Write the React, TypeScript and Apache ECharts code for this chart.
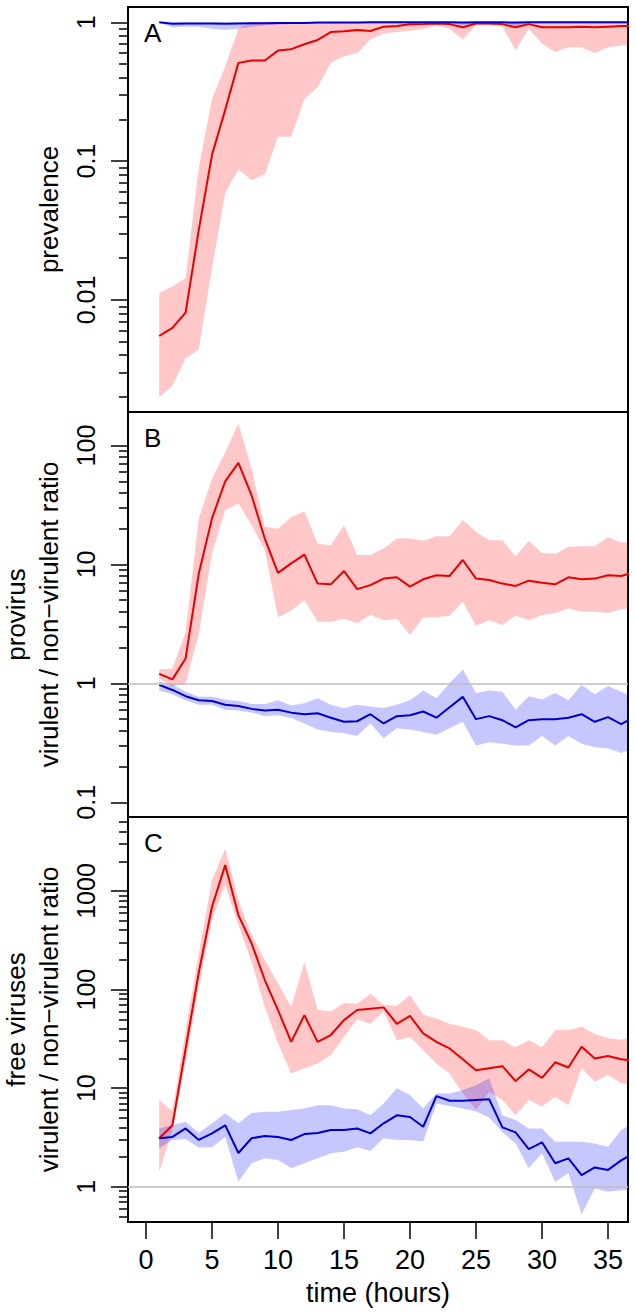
import React, { useEffect, useRef } from "react";
import * as echarts from "echarts";

// ---------- data ----------
const hours = [1, 2, 3, 4, 5, 6, 7, 8, 9, 10, 11, 12, 13, 14, 15, 16, 17, 18, 19, 20, 21, 22, 23, 24, 25, 26, 27, 28, 29, 30, 31, 32, 33, 34, 35, 36, 37];

// Panel A: prevalence
const prevRed = [0.0055, 0.0063, 0.0081, 0.032, 0.111, 0.234, 0.51, 0.53, 0.53, 0.625, 0.64, 0.695, 0.746, 0.85, 0.86, 0.88, 0.866, 0.93, 0.94, 0.967, 0.97, 0.98, 0.97, 0.92, 0.98, 0.98, 0.97, 0.92, 0.97, 0.92, 0.92, 0.92, 0.93, 0.92, 0.93, 0.94, 0.94];
const prevRedLo = [0.002, 0.0024, 0.0038, 0.0044, 0.017, 0.059, 0.087, 0.073, 0.08, 0.15, 0.15, 0.28, 0.34, 0.51, 0.57, 0.6, 0.75, 0.83, 0.85, 0.87, 0.9, 0.95, 0.9, 0.75, 0.95, 0.95, 0.93, 0.63, 0.9, 0.7, 0.61, 0.66, 0.66, 0.6, 0.66, 0.68, 0.69];
const prevRedHi = [0.0112, 0.0125, 0.0144, 0.09, 0.28, 0.48, 0.9, 1, 1, 1, 1, 1, 1, 1, 1, 1, 1, 1, 1, 1, 1, 1, 1, 1, 1, 1, 1, 1, 1, 1, 1, 1, 1, 1, 1, 1, 1];
const prevBlue = [1.0, 0.975, 0.98, 0.98, 0.98, 0.975, 0.98, 0.985, 0.985, 0.99, 0.99, 0.99, 0.995, 0.995, 0.995, 0.995, 1, 1, 1, 1, 1, 1, 1, 0.995, 1, 1, 1, 0.995, 1, 1, 1, 1, 1, 1, 1, 1, 1];
const prevBlueLo = [0.99, 0.92, 0.93, 0.93, 0.9, 0.88, 0.9, 0.93, 0.95, 0.96, 0.97, 0.97, 0.98, 0.98, 0.985, 0.985, 0.985, 0.985, 0.985, 0.985, 0.985, 0.985, 0.985, 0.95, 0.985, 0.985, 0.985, 0.94, 0.985, 0.985, 0.985, 0.985, 0.985, 0.985, 0.985, 0.985, 0.985];
const prevBlueHi = [1, 1, 1, 1, 1, 1, 1, 1, 1, 1, 1, 1, 1, 1, 1, 1, 1, 1, 1, 1, 1, 1, 1, 1, 1, 1, 1, 1, 1, 1, 1, 1, 1, 1, 1, 1, 1];

// Panel B: provirus ratio
const provRed = [1.2, 1.08, 1.62, 8.4, 24.4, 50, 71.4, 38, 16.5, 8.5, 10.2, 12.1, 6.9, 6.8, 8.8, 6.2, 6.7, 7.6, 7.8, 6.5, 7.5, 8.1, 8.0, 10.9, 7.6, 7.4, 6.9, 6.6, 7.3, 7.0, 6.8, 7.8, 7.5, 7.6, 8.1, 8.0, 8.6];
const provRedLo = [1.1, 0.94, 1.0, 2.6, 12.4, 28.6, 32.5, 21.4, 13.2, 3.6, 4.1, 5.0, 3.3, 3.3, 3.5, 3.2, 3.75, 3.4, 3.5, 2.55, 3.6, 3.6, 3.7, 4.85, 3.05, 3.4, 3.1, 3.7, 3.4, 3.75, 3.9, 4.27, 4.0, 4.0, 3.9, 4.2, 4.3];
const provRedHi = [1.31, 1.33, 2.7, 24.4, 52.6, 88, 153, 64, 20.7, 20, 25, 28, 15, 14.5, 21.4, 12, 12, 13.6, 16.5, 16.5, 15.8, 17.3, 17.3, 23.6, 18.8, 16, 16, 11.7, 15.8, 12.5, 12.3, 14, 14.2, 14.2, 16.9, 15.3, 15.5];
const provBlue = [0.97, 0.88, 0.78, 0.72, 0.71, 0.66, 0.645, 0.61, 0.59, 0.6, 0.567, 0.55, 0.56, 0.514, 0.475, 0.48, 0.55, 0.46, 0.53, 0.54, 0.58, 0.514, 0.63, 0.77, 0.5, 0.53, 0.49, 0.427, 0.49, 0.5, 0.5, 0.514, 0.55, 0.475, 0.52, 0.455, 0.52];
const provBlueLo = [0.87, 0.81, 0.72, 0.66, 0.66, 0.6, 0.59, 0.57, 0.53, 0.54, 0.51, 0.46, 0.41, 0.39, 0.38, 0.36, 0.46, 0.345, 0.42, 0.41, 0.39, 0.37, 0.42, 0.476, 0.3, 0.32, 0.31, 0.3, 0.3, 0.36, 0.3, 0.36, 0.31, 0.29, 0.285, 0.26, 0.285];
const provBlueHi = [1.03, 0.98, 0.85, 0.77, 0.77, 0.73, 0.71, 0.67, 0.67, 0.72, 0.65, 0.68, 0.75, 0.66, 0.62, 0.66, 0.64, 0.62, 0.66, 0.72, 0.87, 0.75, 1.0, 1.31, 0.83, 0.87, 0.85, 0.6, 0.78, 0.73, 0.83, 0.72, 0.97, 0.81, 0.95, 0.85, 0.76];

// Panel C: free viruses ratio
const freeRed = [3.1, 4.2, 25, 150, 692, 1833, 570, 294, 125, 62, 29.5, 55, 29.5, 34.6, 49, 62, 64, 66, 45, 54, 36, 29.5, 25.3, 19.6, 15.2, 15.9, 16.7, 11.8, 15.5, 12.7, 18.3, 16.2, 26.3, 20, 21.2, 19.6, 19];
const freeRedLo = [1.42, 3.76, 17.8, 107, 507, 1148, 451, 191, 67, 28.5, 14.1, 15.9, 17.8, 21.7, 33, 50, 45, 60, 30.7, 33, 24.3, 17.8, 14.1, 8.9, 6.0, 9.2, 7.6, 5.3, 7.6, 6.5, 8.2, 6.7, 15.9, 11.6, 13.6, 11.2, 11.0];
const freeRedHi = [7.6, 5.8, 38.8, 233, 1290, 2700, 809, 357, 200, 116, 67, 191, 62, 60, 73, 72, 90, 70, 68, 88, 56, 51, 45, 42, 38.8, 30.7, 30.7, 26, 30.7, 26, 38.8, 38.8, 42, 35.4, 32, 31, 33];
const freeBlue = [3.1, 3.2, 3.9, 2.98, 3.48, 4.2, 2.2, 3.1, 3.27, 3.2, 2.98, 3.42, 3.5, 3.76, 3.76, 3.9, 3.48, 4.4, 5.3, 5.1, 4.06, 8.3, 7.45, 7.45, 7.6, 7.7, 4.0, 3.56, 2.41, 2.82, 1.73, 1.94, 1.31, 1.57, 1.48, 1.85, 2.2];
const freeBlueLo = [2.45, 2.98, 3.05, 2.5, 2.52, 3.2, 1.12, 1.73, 1.94, 1.87, 1.54, 1.73, 1.94, 2.18, 2.26, 2.52, 2.3, 3.1, 2.98, 2.98, 2.87, 7.0, 6.6, 6.2, 5.8, 5.05, 3.56, 2.75, 1.54, 2.18, 1.12, 1.37, 0.53, 0.96, 0.89, 0.92, 0.93];
const freeBlueHi = [3.9, 4.2, 4.56, 3.53, 4.4, 5.55, 4.4, 5.6, 5.77, 5.77, 6.0, 6.2, 6.7, 6.7, 6.2, 6.1, 5.3, 7.0, 9.96, 8.5, 6.2, 8.9, 8.8, 9.6, 10.7, 12.6, 5.3, 4.75, 3.9, 3.9, 2.86, 2.86, 2.86, 2.75, 2.55, 3.76, 4.5];

// ticks
const xTicks = [0, 5, 10, 15, 20, 25, 30, 35];
const majorTicksA = [0.01, 0.1, 1];
const minorTicksA = [0.002, 0.003, 0.004, 0.005, 0.006, 0.007, 0.008, 0.009, 0.02, 0.03, 0.04, 0.05, 0.06, 0.07, 0.08, 0.09, 0.2, 0.3, 0.4, 0.5, 0.6, 0.7, 0.8, 0.9];
const majorTicksB = [0.1, 1, 10, 100];
const minorTicksB = [0.2, 0.3, 0.4, 0.5, 0.6, 0.7, 0.8, 0.9, 2, 3, 4, 5, 6, 7, 8, 9, 20, 30, 40, 50, 60, 70, 80, 90];
const majorTicksC = [1, 10, 100, 1000];
const minorTicksC = [0.5, 0.6, 0.7, 0.8, 0.9, 2, 3, 4, 5, 6, 7, 8, 9, 20, 30, 40, 50, 60, 70, 80, 90, 200, 300, 400, 500, 600, 700, 800, 900, 2000, 3000, 4000, 5000];

const panelLetters = ["A", "B", "C"];
const yTitles = ["prevalence", "provirus\nvirulent / non\u2212virulent ratio", "free viruses\nvirulent / non\u2212virulent ratio"];
const xTitle = "time (hours)";

// ---------- layout / style ----------
const FONT = "'Liberation Sans', Arial, Helvetica, sans-serif";
const RED = "#e60000";
const BLUE = "#0000cc";
const RED_BAND = "rgba(255,0,0,0.22)";
const BLUE_BAND = "rgba(0,0,255,0.22)";
const GRID_LEFT = 128;
const GRID_W = 500;
const GRID_H = 405;
const X_MIN = -1.364;
const X_MAX = 36.515;

const lg = (v: number) => Math.log10(v);
const fmt = (v: number) => {
  const p = Math.round(v);
  return p >= 0 ? String(Math.pow(10, p)) : Math.pow(10, p).toFixed(-p);
};

const panels = [
  { top: 7, min: -2.807, max: 0.11, major: majorTicksA, minor: minorTicksA, red: prevRed, redLo: prevRedLo, redHi: prevRedHi, blue: prevBlue, blueLo: prevBlueLo, blueHi: prevBlueHi, ref: false },
  { top: 412, min: -1.124, max: 2.282, major: majorTicksB, minor: minorTicksB, red: provRed, redLo: provRedLo, redHi: provRedHi, blue: provBlue, blueLo: provBlueLo, blueHi: provBlueHi, ref: true },
  { top: 817, min: -0.358, max: 3.751, major: majorTicksC, minor: minorTicksC, red: freeRed, redLo: freeRedLo, redHi: freeRedHi, blue: freeBlue, blueLo: freeBlueLo, blueHi: freeBlueHi, ref: true },
];

function bandSeries(i: number, lo: number[], hi: number[], color: string, withRef: boolean) {
  return {
    type: "custom",
    xAxisIndex: i,
    yAxisIndex: 2 * i,
    clip: true,
    silent: true,
    z: 1,
    data: hours.map((t, k) => [t, lg(lo[k]), lg(hi[k])]),
    encode: { x: 0, y: [1, 2] },
    renderItem: (params: any, api: any) => {
      if (params.dataIndex !== 0) return null;
      const upper = hours.map((t, k) => api.coord([t, lg(hi[k])]));
      const lower = hours.map((t, k) => api.coord([t, lg(lo[k])])).reverse();
      return {
        type: "polygon",
        shape: { points: upper.concat(lower) },
        style: { fill: color, stroke: "none" },
      };
    },
    markLine: withRef ? {
      silent: true, symbol: ["none", "none"], label: { show: false },
      lineStyle: { color: "#bdbdbd", width: 1.5, type: "solid" },
      data: [{ yAxis: 0 }],
    } : undefined,
  };
}

function buildOption() {
  const grid: any[] = [];
  const xAxis: any[] = [];
  const yAxis: any[] = [];
  const series: any[] = [];
  const graphic: any[] = [];

  panels.forEach((p, i) => {
    grid.push({
      left: GRID_LEFT, width: GRID_W, top: p.top, height: GRID_H,
      show: true, borderColor: "#000", borderWidth: 2, backgroundColor: "transparent",
      containLabel: false, outerBoundsMode: "none",
    });
    const isBottom = i === panels.length - 1;
    xAxis.push({
      type: "value", gridIndex: i, min: X_MIN, max: X_MAX, show: isBottom, position: "bottom",
      axisLine: { show: false, onZero: false }, splitLine: { show: false },
      axisTick: { show: true, customValues: xTicks, length: 17, lineStyle: { color: "#000", width: 1.5 } },
      axisLabel: { customValues: xTicks, fontSize: 27, color: "#000", fontFamily: FONT, margin: 24 },
      name: isBottom ? xTitle : "", nameLocation: "middle", nameGap: 57,
      nameTextStyle: { fontSize: 27, color: "#000", fontFamily: FONT },
    });
    yAxis.push({
      type: "value", gridIndex: i, min: p.min, max: p.max, position: "left",
      axisLine: { show: false, onZero: false }, splitLine: { show: false },
      axisTick: { show: true, customValues: p.major.map(lg), length: 17, lineStyle: { color: "#000", width: 1.5 } },
      axisLabel: { customValues: p.major.map(lg), rotate: 90, margin: 30, fontSize: 25, color: "#000", fontFamily: FONT, formatter: (v: number) => fmt(v) },
      name: yTitles[i], nameLocation: "middle", nameRotate: 90, nameGap: 53,
      nameTextStyle: { fontSize: 26, color: "#000", fontFamily: FONT, lineHeight: 33 },
    });
    yAxis.push({
      type: "value", gridIndex: i, min: p.min, max: p.max, position: "left",
      axisLine: { show: false, onZero: false }, splitLine: { show: false },
      axisTick: { show: true, customValues: p.minor.map(lg), length: 9, lineStyle: { color: "#000", width: 1.5 } },
      axisLabel: { show: false },
    });
    series.push(bandSeries(i, p.redLo, p.redHi, RED_BAND, p.ref));
    series.push(bandSeries(i, p.blueLo, p.blueHi, BLUE_BAND, false));
    series.push({
      type: "line", xAxisIndex: i, yAxisIndex: 2 * i, data: hours.map((t, k) => [t, lg(p.red[k])]),
      symbol: "none", lineStyle: { color: RED, width: 2 }, z: 3, silent: true,
    });
    series.push({
      type: "line", xAxisIndex: i, yAxisIndex: 2 * i, data: hours.map((t, k) => [t, lg(p.blue[k])]),
      symbol: "none", lineStyle: { color: BLUE, width: 2 }, z: 3, silent: true,
    });
    graphic.push({
      type: "text", left: 144, top: p.top + 13,
      style: { text: panelLetters[i], fontSize: 26, fontFamily: FONT, fill: "#000" },
    });
  });

  return {
    animation: false,
    backgroundColor: "#fff",
    grid, xAxis, yAxis, series, graphic,
  };
}

export default function App() {
  const ref = useRef<HTMLDivElement>(null);
  useEffect(() => {
    document.body.style.margin = "0";
    const chart = echarts.init(ref.current!, null, { renderer: "svg" });
    chart.setOption(buildOption() as any);
    return () => chart.dispose();
  }, []);
  return <div ref={ref} style={{ position: "absolute", left: 0, top: 0, width: 636, height: 1313 }} />;
}
